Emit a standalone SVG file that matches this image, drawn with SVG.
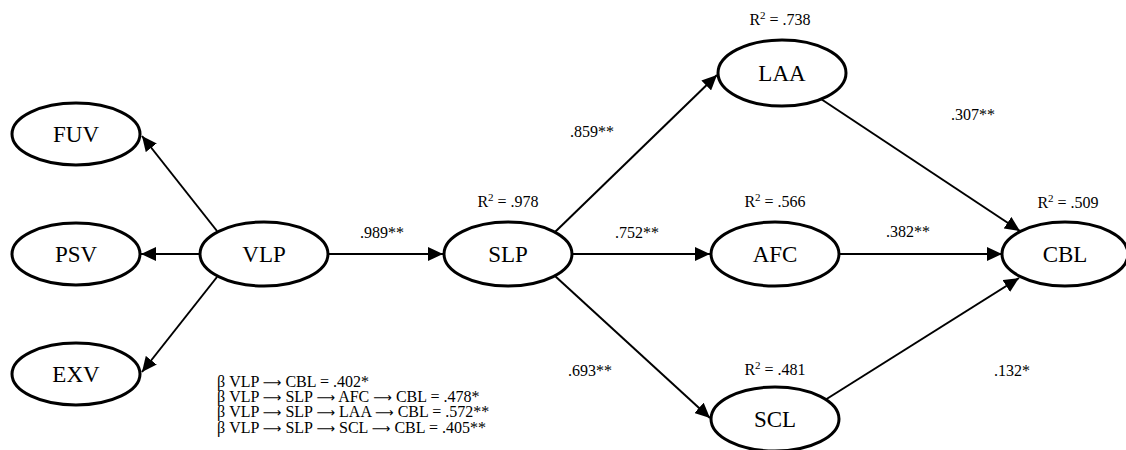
<svg xmlns="http://www.w3.org/2000/svg" width="1126" height="450" viewBox="0 0 1126 450">
<style>
text{font-family:'Liberation Serif','Times New Roman',Times,serif;fill:#000}
.node ellipse{fill:#fff;stroke:#000;stroke-width:3}
.node text{font-size:23px;text-anchor:middle}
.lbl{font-size:16px;text-anchor:middle}
.beta{font-size:16px}
.ar{font-family:'DejaVu Sans',sans-serif;font-size:13px}
#edges line{stroke:#000;stroke-width:2;marker-end:url(#ah)}
</style>
<defs>
<marker id="ah" markerUnits="userSpaceOnUse" markerWidth="16" markerHeight="14" refX="15" refY="7" orient="auto">
<path d="M0,0 L15,7 L0,14 Z" fill="#000"/>
</marker>
</defs>
<rect width="1126" height="450" fill="#fff"/>
<g id="edges">
<line x1="217" y1="231" x2="142" y2="136"/>
<line x1="199" y1="254" x2="141" y2="254"/>
<line x1="217" y1="277" x2="142" y2="372"/>
<line x1="328" y1="254" x2="443" y2="254"/>
<line x1="555" y1="232" x2="717" y2="75"/>
<line x1="572" y1="254" x2="710" y2="254"/>
<line x1="555" y1="276" x2="710" y2="418"/>
<line x1="821" y1="99" x2="1020" y2="231"/>
<line x1="840" y1="254" x2="1002" y2="254"/>
<line x1="825" y1="400" x2="1019" y2="278"/>
</g>
<g id="FUV" class="node"><ellipse cx="76" cy="134" rx="64" ry="31"/><text x="76" y="142">FUV</text></g>
<g id="PSV" class="node"><ellipse cx="76" cy="254" rx="64" ry="31"/><text x="76" y="262">PSV</text></g>
<g id="EXV" class="node"><ellipse cx="76" cy="374" rx="64" ry="31"/><text x="76" y="382">EXV</text></g>
<g id="VLP" class="node"><ellipse cx="264" cy="254" rx="64" ry="32"/><text x="264" y="262">VLP</text></g>
<g id="SLP" class="node"><ellipse cx="508" cy="254" rx="64" ry="32"/><text x="508" y="262">SLP</text></g>
<g id="LAA" class="node"><ellipse cx="782" cy="73" rx="64" ry="33"/><text x="782" y="81">LAA</text></g>
<g id="AFC" class="node"><ellipse cx="775" cy="254" rx="64" ry="32"/><text x="775" y="262">AFC</text></g>
<g id="SCL" class="node"><ellipse cx="775" cy="419" rx="64" ry="32"/><text x="775" y="427">SCL</text></g>
<g id="CBL" class="node"><ellipse cx="1065" cy="254" rx="63" ry="32"/><text x="1065" y="262">CBL</text></g>
<g id="labels">
<text class="lbl" x="382" y="238">.989**</text>
<text class="lbl" x="637" y="238">.752**</text>
<text class="lbl" x="592" y="137">.859**</text>
<text class="lbl" x="590" y="376">.693**</text>
<text class="lbl" x="973" y="120">.307**</text>
<text class="lbl" x="908" y="237">.382**</text>
<text class="lbl" x="1012" y="376">.132*</text>
<text class="lbl" x="508" y="207">R<tspan font-size="11" dy="-6">2</tspan><tspan dy="6"> = .978</tspan></text>
<text class="lbl" x="780" y="25">R<tspan font-size="11" dy="-6">2</tspan><tspan dy="6"> = .738</tspan></text>
<text class="lbl" x="775" y="207">R<tspan font-size="11" dy="-6">2</tspan><tspan dy="6"> = .566</tspan></text>
<text class="lbl" x="775" y="375">R<tspan font-size="11" dy="-6">2</tspan><tspan dy="6"> = .481</tspan></text>
<text class="lbl" x="1068" y="208">R<tspan font-size="11" dy="-6">2</tspan><tspan dy="6"> = .509</tspan></text>
<text class="beta" x="217" y="387">β VLP <tspan class="ar">⟶</tspan> CBL = .402*</text>
<text class="beta" x="217" y="402">β VLP <tspan class="ar">⟶</tspan> SLP <tspan class="ar">⟶</tspan> AFC <tspan class="ar">⟶</tspan> CBL = .478*</text>
<text class="beta" x="217" y="417">β VLP <tspan class="ar">⟶</tspan> SLP <tspan class="ar">⟶</tspan> LAA <tspan class="ar">⟶</tspan> CBL = .572**</text>
<text class="beta" x="217" y="433">β VLP <tspan class="ar">⟶</tspan> SLP <tspan class="ar">⟶</tspan> SCL <tspan class="ar">⟶</tspan> CBL = .405**</text>
</g>
</svg>
